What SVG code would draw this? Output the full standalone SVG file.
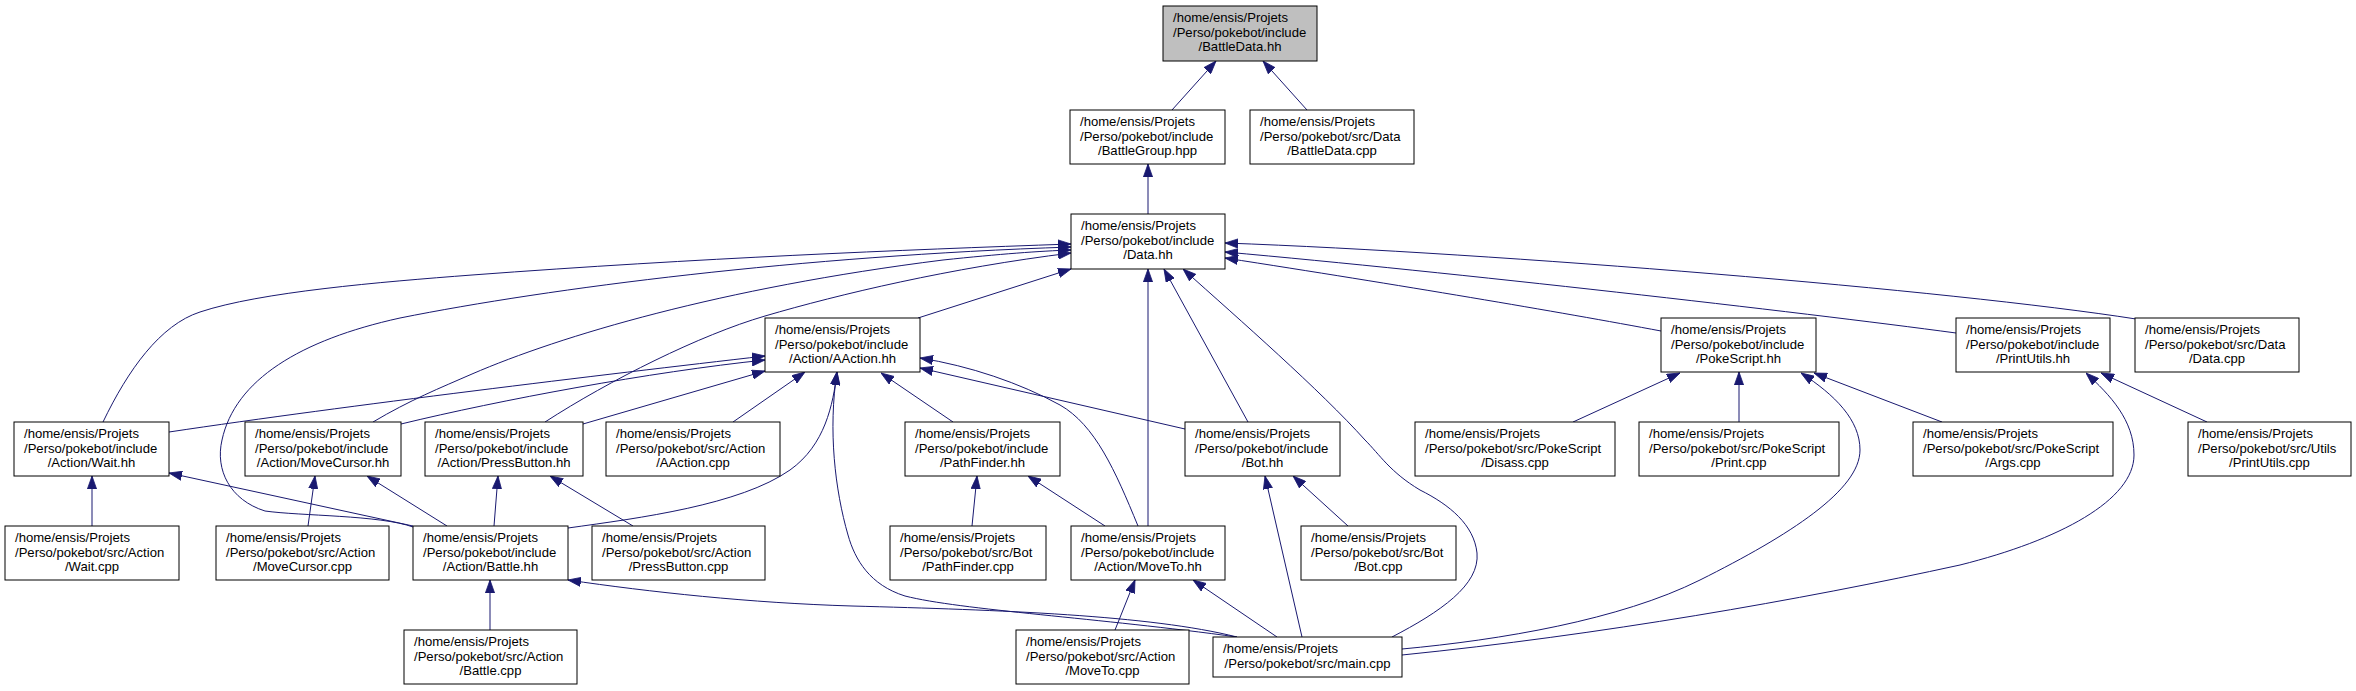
<svg xmlns="http://www.w3.org/2000/svg" width="2356" height="691" viewBox="0 0 2356 691">
<style>
.node rect{fill:#fff;stroke:#000;stroke-width:1}
.node text{font-family:"Liberation Sans",Arial,Helvetica,sans-serif;font-size:13.1px;fill:#000}
.node .c{text-anchor:middle}
.edge{fill:none;stroke:#191970;stroke-width:1;marker-end:url(#ah)}
</style>
<defs>
<marker id="ah" viewBox="0 0 13 10" refX="13" refY="5" markerWidth="13" markerHeight="10" markerUnits="userSpaceOnUse" orient="auto">
<path d="M0,0.4 L13,5 L0,9.6 z" fill="#191970" stroke="#191970" stroke-width="0.8"/>
</marker>
</defs>
<g id="edges">
<path class="edge" d="M1172,110 L1216,61"/>
<path class="edge" d="M1307,110 L1263,61"/>
<path class="edge" d="M1148,214 L1148,164"/>
<path class="edge" d="M918,318 L1071,269"/>
<path class="edge" d="M103,422 C128,370 160,325 200,312 C260,292 380,282 472,275 C700,258 900,250 1071,244"/>
<path class="edge" d="M373,422 C410,400 440,388 472,374 C560,336 720,288 943,260 C1000,254 1040,251 1071,250"/>
<path class="edge" d="M545,422 C610,380 700,335 765,316 C840,294 950,268 1071,253"/>
<path class="edge" d="M413,527 C380,515 300,516 265,511 C230,500 215,470 222,440 C235,380 300,340 400,318 C550,288 800,256 1071,247"/>
<path class="edge" d="M1148,526 L1148,269"/>
<path class="edge" d="M1248,422 L1164,269"/>
<path class="edge" d="M1392,637 C1440,612 1480,585 1477,553 C1474,525 1450,505 1420,490 C1390,472 1380,455 1365,440 C1320,390 1240,320 1183,269"/>
<path class="edge" d="M1661,331 C1560,312 1400,285 1225,258"/>
<path class="edge" d="M1956,333 C1800,312 1450,272 1225,252"/>
<path class="edge" d="M2136,319 C1950,290 1500,253 1225,243"/>
<path class="edge" d="M169,432 C350,405 600,375 765,356"/>
<path class="edge" d="M401,424 C500,400 650,372 765,360"/>
<path class="edge" d="M583,424 L765,371"/>
<path class="edge" d="M733,422 L805,372"/>
<path class="edge" d="M568,528 C640,518 740,505 790,470 C825,445 833,405 837,372"/>
<path class="edge" d="M1237,637 C1100,618 960,610 905,596 C870,585 855,560 848,535 C835,490 828,430 837,372"/>
<path class="edge" d="M953,422 L881,373"/>
<path class="edge" d="M1138,526 C1115,470 1095,425 1060,405 C1020,383 970,366 920,358"/>
<path class="edge" d="M1185,429 L920,368"/>
<path class="edge" d="M972,526 L977,476"/>
<path class="edge" d="M1105,526 L1028,476"/>
<path class="edge" d="M1115,630 L1135,580"/>
<path class="edge" d="M1277,637 L1193,580"/>
<path class="edge" d="M1302,637 L1265,476"/>
<path class="edge" d="M1348,526 L1293,476"/>
<path class="edge" d="M1237,637 C1150,615 1000,610 852,606 C750,603 650,592 568,580"/>
<path class="edge" d="M1573,422 L1680,373"/>
<path class="edge" d="M1739,422 L1739,372"/>
<path class="edge" d="M1942,422 L1814,373"/>
<path class="edge" d="M1402,649 C1500,640 1620,620 1700,580 C1790,535 1860,490 1860,450 C1860,420 1835,395 1801,373"/>
<path class="edge" d="M1402,655 C1600,635 1800,600 1960,565 C2060,540 2134,500 2134,455 C2134,420 2110,395 2086,373"/>
<path class="edge" d="M2207,422 L2101,373"/>
<path class="edge" d="M92,526 L92,476"/>
<path class="edge" d="M308,526 L315,476"/>
<path class="edge" d="M447,526 L367,476"/>
<path class="edge" d="M413,526 L169,473"/>
<path class="edge" d="M494,526 L498,476"/>
<path class="edge" d="M633,526 L550,476"/>
<path class="edge" d="M490,630 L490,580"/>
</g>
<g id="n_BattleData_hh" class="node"><rect x="1163" y="6" width="154" height="55" style="fill:#bfbfbf"/><text x="1173" y="22">/home/ensis/Projets</text><text x="1173" y="36.5">/Perso/pokebot/include</text><text class="c" x="1240" y="51">/BattleData.hh</text></g>
<g id="n_BattleGroup_hpp" class="node"><rect x="1070" y="110" width="155" height="54"/><text x="1080" y="126">/home/ensis/Projets</text><text x="1080" y="140.5">/Perso/pokebot/include</text><text class="c" x="1147.5" y="155">/BattleGroup.hpp</text></g>
<g id="n_BattleData_cpp" class="node"><rect x="1250" y="110" width="164" height="54"/><text x="1260" y="126">/home/ensis/Projets</text><text x="1260" y="140.5">/Perso/pokebot/src/Data</text><text class="c" x="1332" y="155">/BattleData.cpp</text></g>
<g id="n_Data_hh" class="node"><rect x="1071" y="214" width="154" height="55"/><text x="1081" y="230">/home/ensis/Projets</text><text x="1081" y="244.5">/Perso/pokebot/include</text><text class="c" x="1148" y="259">/Data.hh</text></g>
<g id="n_AAction_hh" class="node"><rect x="765" y="318" width="155" height="54"/><text x="775" y="334">/home/ensis/Projets</text><text x="775" y="348.5">/Perso/pokebot/include</text><text class="c" x="842.5" y="363">/Action/AAction.hh</text></g>
<g id="n_PokeScript_hh" class="node"><rect x="1661" y="318" width="155" height="54"/><text x="1671" y="334">/home/ensis/Projets</text><text x="1671" y="348.5">/Perso/pokebot/include</text><text class="c" x="1738.5" y="363">/PokeScript.hh</text></g>
<g id="n_PrintUtils_hh" class="node"><rect x="1956" y="318" width="154" height="54"/><text x="1966" y="334">/home/ensis/Projets</text><text x="1966" y="348.5">/Perso/pokebot/include</text><text class="c" x="2033" y="363">/PrintUtils.hh</text></g>
<g id="n_Data_cpp" class="node"><rect x="2135" y="318" width="164" height="54"/><text x="2145" y="334">/home/ensis/Projets</text><text x="2145" y="348.5">/Perso/pokebot/src/Data</text><text class="c" x="2217" y="363">/Data.cpp</text></g>
<g id="n_Wait_hh" class="node"><rect x="14" y="422" width="155" height="54"/><text x="24" y="438">/home/ensis/Projets</text><text x="24" y="452.5">/Perso/pokebot/include</text><text class="c" x="91.5" y="467">/Action/Wait.hh</text></g>
<g id="n_MoveCursor_hh" class="node"><rect x="245" y="422" width="156" height="54"/><text x="255" y="438">/home/ensis/Projets</text><text x="255" y="452.5">/Perso/pokebot/include</text><text class="c" x="323" y="467">/Action/MoveCursor.hh</text></g>
<g id="n_PressButton_hh" class="node"><rect x="425" y="422" width="158" height="54"/><text x="435" y="438">/home/ensis/Projets</text><text x="435" y="452.5">/Perso/pokebot/include</text><text class="c" x="504" y="467">/Action/PressButton.hh</text></g>
<g id="n_AAction_cpp" class="node"><rect x="606" y="422" width="174" height="54"/><text x="616" y="438">/home/ensis/Projets</text><text x="616" y="452.5">/Perso/pokebot/src/Action</text><text class="c" x="693" y="467">/AAction.cpp</text></g>
<g id="n_PathFinder_hh" class="node"><rect x="905" y="422" width="155" height="54"/><text x="915" y="438">/home/ensis/Projets</text><text x="915" y="452.5">/Perso/pokebot/include</text><text class="c" x="982.5" y="467">/PathFinder.hh</text></g>
<g id="n_Bot_hh" class="node"><rect x="1185" y="422" width="155" height="54"/><text x="1195" y="438">/home/ensis/Projets</text><text x="1195" y="452.5">/Perso/pokebot/include</text><text class="c" x="1262.5" y="467">/Bot.hh</text></g>
<g id="n_Disass_cpp" class="node"><rect x="1415" y="422" width="200" height="54"/><text x="1425" y="438">/home/ensis/Projets</text><text x="1425" y="452.5">/Perso/pokebot/src/PokeScript</text><text class="c" x="1515" y="467">/Disass.cpp</text></g>
<g id="n_Print_cpp" class="node"><rect x="1639" y="422" width="200" height="54"/><text x="1649" y="438">/home/ensis/Projets</text><text x="1649" y="452.5">/Perso/pokebot/src/PokeScript</text><text class="c" x="1739" y="467">/Print.cpp</text></g>
<g id="n_Args_cpp" class="node"><rect x="1913" y="422" width="200" height="54"/><text x="1923" y="438">/home/ensis/Projets</text><text x="1923" y="452.5">/Perso/pokebot/src/PokeScript</text><text class="c" x="2013" y="467">/Args.cpp</text></g>
<g id="n_PrintUtils_cpp" class="node"><rect x="2188" y="422" width="163" height="54"/><text x="2198" y="438">/home/ensis/Projets</text><text x="2198" y="452.5">/Perso/pokebot/src/Utils</text><text class="c" x="2269.5" y="467">/PrintUtils.cpp</text></g>
<g id="n_Wait_cpp" class="node"><rect x="5" y="526" width="174" height="54"/><text x="15" y="542">/home/ensis/Projets</text><text x="15" y="556.5">/Perso/pokebot/src/Action</text><text class="c" x="92" y="571">/Wait.cpp</text></g>
<g id="n_MoveCursor_cpp" class="node"><rect x="216" y="526" width="173" height="54"/><text x="226" y="542">/home/ensis/Projets</text><text x="226" y="556.5">/Perso/pokebot/src/Action</text><text class="c" x="302.5" y="571">/MoveCursor.cpp</text></g>
<g id="n_Battle_hh" class="node"><rect x="413" y="526" width="155" height="54"/><text x="423" y="542">/home/ensis/Projets</text><text x="423" y="556.5">/Perso/pokebot/include</text><text class="c" x="490.5" y="571">/Action/Battle.hh</text></g>
<g id="n_PressButton_cpp" class="node"><rect x="592" y="526" width="173" height="54"/><text x="602" y="542">/home/ensis/Projets</text><text x="602" y="556.5">/Perso/pokebot/src/Action</text><text class="c" x="678.5" y="571">/PressButton.cpp</text></g>
<g id="n_PathFinder_cpp" class="node"><rect x="890" y="526" width="156" height="54"/><text x="900" y="542">/home/ensis/Projets</text><text x="900" y="556.5">/Perso/pokebot/src/Bot</text><text class="c" x="968" y="571">/PathFinder.cpp</text></g>
<g id="n_MoveTo_hh" class="node"><rect x="1071" y="526" width="154" height="54"/><text x="1081" y="542">/home/ensis/Projets</text><text x="1081" y="556.5">/Perso/pokebot/include</text><text class="c" x="1148" y="571">/Action/MoveTo.hh</text></g>
<g id="n_Bot_cpp" class="node"><rect x="1301" y="526" width="155" height="54"/><text x="1311" y="542">/home/ensis/Projets</text><text x="1311" y="556.5">/Perso/pokebot/src/Bot</text><text class="c" x="1378.5" y="571">/Bot.cpp</text></g>
<g id="n_Battle_cpp" class="node"><rect x="404" y="630" width="173" height="54"/><text x="414" y="646">/home/ensis/Projets</text><text x="414" y="660.5">/Perso/pokebot/src/Action</text><text class="c" x="490.5" y="675">/Battle.cpp</text></g>
<g id="n_MoveTo_cpp" class="node"><rect x="1016" y="630" width="173" height="54"/><text x="1026" y="646">/home/ensis/Projets</text><text x="1026" y="660.5">/Perso/pokebot/src/Action</text><text class="c" x="1102.5" y="675">/MoveTo.cpp</text></g>
<g id="n_main_cpp" class="node"><rect x="1213" y="637" width="189" height="40"/><text x="1223" y="653">/home/ensis/Projets</text><text class="c" x="1307.5" y="667.5">/Perso/pokebot/src/main.cpp</text></g>
</svg>
